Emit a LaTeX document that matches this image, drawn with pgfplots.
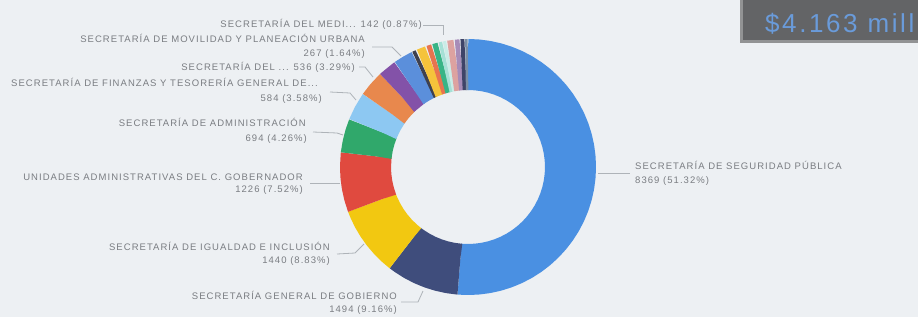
\documentclass[border=0pt]{standalone}
\usepackage{pgfplots}
\pgfplotsset{compat=1.18}
\usepackage{fontspec}
\setmainfont{Liberation Sans}
\newfontfamily\lbl[LetterSpace=11]{Liberation Sans}
\newfontfamily\bigcard[LetterSpace=10]{Liberation Sans}
\definecolor{bg}{HTML}{EDF0F3}
\definecolor{txt}{HTML}{7A7D82}
\definecolor{lead}{HTML}{AEB3B8}
\definecolor{card}{HTML}{636466}
\definecolor{cardtxt}{HTML}{6A9BDA}
\definecolor{c1}{HTML}{4A90E2}
\definecolor{c2}{HTML}{3F4D7C}
\definecolor{c3}{HTML}{F2C811}
\definecolor{c4}{HTML}{E04A3F}
\definecolor{c5}{HTML}{30A86B}
\definecolor{c6}{HTML}{8DC8F2}
\definecolor{c7}{HTML}{E8884D}
\definecolor{c8}{HTML}{8352A8}
\definecolor{c9}{HTML}{5B8FDB}
\definecolor{c10}{HTML}{3D4050}
\definecolor{c11}{HTML}{F5C33B}
\definecolor{c12}{HTML}{E8744F}
\definecolor{c13}{HTML}{38B486}
\definecolor{c14}{HTML}{A6E0D6}
\definecolor{c15}{HTML}{DDA2A0}
\definecolor{c16}{HTML}{A78CB8}
\definecolor{c17}{HTML}{3E4468}
\definecolor{c18}{HTML}{7B8FA6}
\begin{document}
\begin{tikzpicture}
\begin{axis}[
  width=918pt, height=317pt, scale only axis,
  xmin=-468, xmax=450, ymin=-150, ymax=167,
  hide axis, clip=false,
  every axis plot/.append style={no markers},
]
\fill[bg] (axis cs:-468,-150) rectangle (axis cs:450,167);
\coordinate (bl) at (axis cs:-468,-150);
\coordinate (tr) at (axis cs:450,167);
% Donut: slices as (angle, radius) in polar data coordinates; ring mid radius 102.5, width 51
% Values: 8369 (51.32%), 1494 (9.16%), 1440 (8.83%), 1226 (7.52%), 694 (4.26%), 584 (3.58%), 536 (3.29%), 267 (1.64%), 142 (0.87%), others
\pgfplotsset{ring/.style={data cs=polar, line width=51pt, line join=round}}
\addplot[ring, c1] coordinates {(90,102.5) (89.7,102.5) (85,102.5) (80,102.5) (75,102.5) (70,102.5) (65,102.5) (60,102.5) (55,102.5) (50,102.5) (45,102.5) (40,102.5) (35,102.5) (30,102.5) (25,102.5) (20,102.5) (15,102.5) (10,102.5) (5,102.5) (0,102.5) (-5,102.5) (-10,102.5) (-15,102.5) (-20,102.5) (-25,102.5) (-30,102.5) (-35,102.5) (-40,102.5) (-45,102.5) (-50,102.5) (-55,102.5) (-60,102.5) (-65,102.5) (-70,102.5) (-75,102.5) (-80,102.5) (-85,102.5) (-90,102.5) (-94.45,102.5) (-94.75,102.5)};
\addplot[ring, c2] coordinates {(-94.75,102.5) (-95.05,102.5) (-100,102.5) (-105,102.5) (-110,102.5) (-115,102.5) (-120,102.5) (-125,102.5) (-127.43,102.5) (-127.73,102.5)};
\addplot[ring, c3] coordinates {(-127.73,102.5) (-128.03,102.5) (-132,102.5) (-137,102.5) (-142,102.5) (-147,102.5) (-152,102.5) (-157,102.5) (-159.22,102.5) (-159.52,102.5)};
\addplot[ring, c4] coordinates {(-159.52,102.5) (-159.82,102.5) (-165,102.5) (-170,102.5) (-175,102.5) (-180,102.5) (-186.29,102.5) (-186.59,102.5)};
\addplot[ring, c5] coordinates {(-186.59,102.5) (-186.89,102.5) (-192,102.5) (-197,102.5) (-201.63,102.5) (-201.93,102.5)};
\addplot[ring, c6] coordinates {(-201.93,102.5) (-202.23,102.5) (-208,102.5) (-214.52,102.5) (-214.82,102.5)};
\addplot[ring, c7] coordinates {(-214.82,102.5) (-215.12,102.5) (-220,102.5) (-226.36,102.5) (-226.66,102.5)};
\addplot[ring, c8] coordinates {(-226.66,102.5) (-226.96,102.5) (-234.7,102.5) (-235,102.5)};
\addplot[ring, c9] coordinates {(-235,102.5) (-235.3,102.5) (-239.5,102.5) (-243.7,102.5) (-244,102.5)};
\addplot[ring, c10] coordinates {(-244,102.5) (-246,102.5)};
\addplot[ring, c11] coordinates {(-246,102.5) (-250.8,102.5)};
\addplot[ring, c12] coordinates {(-250.8,102.5) (-253.5,102.5)};
\addplot[ring, c13] coordinates {(-253.5,102.5) (-256.5,102.5)};
\addplot[ring, c14] coordinates {(-256.5,102.5) (-258.5,102.5)};
\addplot[ring, c14!60!white] coordinates {(-258.5,102.5) (-260.3,102.5)};
\addplot[ring, c15] coordinates {(-260.3,102.5) (-263.8,102.5)};
\addplot[ring, c16] coordinates {(-263.8,102.5) (-266.4,102.5)};
\addplot[ring, c17] coordinates {(-266.4,102.5) (-268.6,102.5)};
\addplot[ring, c18] coordinates {(-268.6,102.5) (-270,102.5)};
% leader lines
\pgfplotsset{leader/.style={lead, line width=0.8pt}}
\addplot[leader] coordinates {(130,-6) (162,-6)};
\addplot[leader] coordinates {(-67,-135) (-50,-135) (-45,-124)};
\addplot[leader] coordinates {(-131,-87) (-113,-86) (-104,-77)};
\addplot[leader] coordinates {(-158,-16) (-128,-16)};
\addplot[leader] coordinates {(-155,35) (-131,34) (-125,32)};
\addplot[leader] coordinates {(-138,75) (-118,74) (-112,67)};
\addplot[leader] coordinates {(-109,100) (-103,100) (-95,90)};
\addplot[leader] coordinates {(-96,120) (-76,120) (-67,111)};
\addplot[leader] coordinates {(-45,142) (-25,142) (-25,132)};
% labels
\tikzset{lab/.style={font=\lbl\fontsize{9.5}{11}\selectfont, text=txt, inner sep=0pt}}
\node[lab, anchor=base west] at (axis cs:167,-2.5) {SECRETARÍA DE SEGURIDAD PÚBLICA};
\node[lab, anchor=base west] at (axis cs:167,-16.5) {8369 (51.32\%)};
\node[lab, anchor=base east] at (axis cs:-71,-132.5) {SECRETARÍA GENERAL DE GOBIERNO};
\node[lab, anchor=base east] at (axis cs:-71,-145.5) {1494 (9.16\%)};
\node[lab, anchor=base east] at (axis cs:-138,-83.5) {SECRETARÍA DE IGUALDAD E INCLUSIÓN};
\node[lab, anchor=base east] at (axis cs:-138,-96.5) {1440 (8.83\%)};
\node[lab, anchor=base east] at (axis cs:-165,-13.5) {UNIDADES ADMINISTRATIVAS DEL C. GOBERNADOR};
\node[lab, anchor=base east] at (axis cs:-165,-25.5) {1226 (7.52\%)};
\node[lab, anchor=base east] at (axis cs:-162,40.5) {SECRETARÍA DE ADMINISTRACIÓN};
\node[lab, anchor=base east] at (axis cs:-161,25.5) {694 (4.26\%)};
\node[lab, anchor=base east] at (axis cs:-150,80.5) {SECRETARÍA DE FINANZAS Y TESORERÍA GENERAL DE...};
\node[lab, anchor=base east] at (axis cs:-146,65.5) {584 (3.58\%)};
\node[lab, anchor=base east] at (axis cs:-113,96.5) {SECRETARÍA DEL ... 536 (3.29\%)};
\node[lab, anchor=base east] at (axis cs:-103,124.5) {SECRETARÍA DE MOVILIDAD Y PLANEACIÓN URBANA};
\node[lab, anchor=base east] at (axis cs:-103,111) {267 (1.64\%)};
\node[lab, anchor=base east] at (axis cs:-46,139.5) {SECRETARÍA DEL MEDI... 142 (0.87\%)};
% card
\fill[card!70!white] (axis cs:272,167) rectangle (axis cs:450,124);
\fill[card] (axis cs:275,167) rectangle (axis cs:450,127);
\node[anchor=base west, inner sep=0pt, text=cardtxt, font=\bigcard\fontsize{26}{30}\selectfont] at (axis cs:297,135) {\$4.163 mill};
\end{axis}
\pgfresetboundingbox
\useasboundingbox (bl) rectangle (tr);
\end{tikzpicture}
\end{document}
